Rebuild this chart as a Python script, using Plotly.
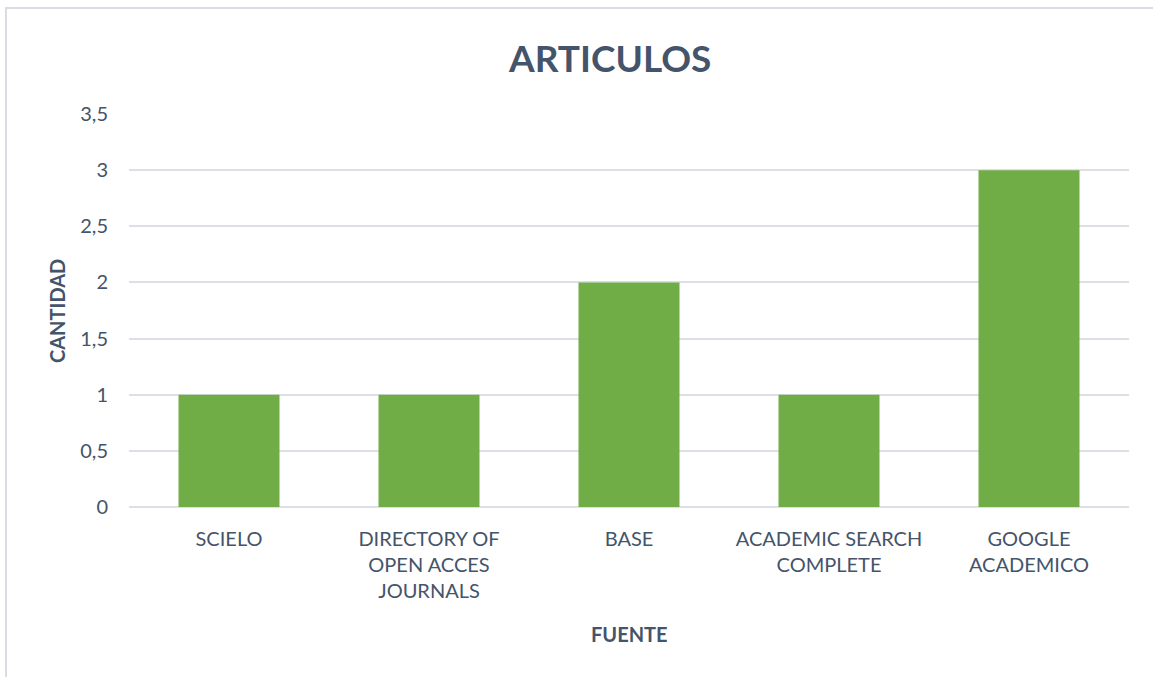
import plotly.graph_objects as go

categories = ["SCIELO", "DIRECTORY OF<br>OPEN ACCES<br>JOURNALS", "BASE",
              "ACADEMIC SEARCH<br>COMPLETE", "GOOGLE<br>ACADEMICO"]
values = [1, 1, 2, 1, 3]
tick_vals = [0, 0.5, 1, 1.5, 2, 2.5, 3, 3.5]
tick_text = ["0", "0,5", "1", "1,5", "2", "2,5", "3", "3,5"]

TXT = "#44546A"
GRID = "#DCE0E6"
FONT = "Lato, 'Open Sans', sans-serif"

fig = go.Figure(go.Bar(x=categories, y=values, marker=dict(color="#70AD47", line=dict(width=0)),
                       width=0.505))

W, H = 1153, 677
L, R, T, B = 129, 24, 114, 170
pw, ph = W - L - R, H - T - B

def px(xpix):
    return (xpix - L) / pw

def py(ypix):
    return (H - B - ypix) / ph

fig.update_layout(
    width=W, height=H,
    margin=dict(l=L, r=R, t=T, b=B),
    paper_bgcolor="white", plot_bgcolor="white",
    font=dict(family=FONT, color=TXT, size=20),
    showlegend=False,
    xaxis=dict(showgrid=False, showline=False, zeroline=False, ticks="",
               tickfont=dict(size=20, color=TXT), ticklabelstandoff=18),
    yaxis=dict(range=[0, 3.5], tickvals=tick_vals, ticktext=tick_text,
               showgrid=True, gridcolor=GRID, gridwidth=1.5, zeroline=True,
               zerolinecolor=GRID, zerolinewidth=1.5, showline=False, ticks="",
               tickfont=dict(size=20, color=TXT), ticklabelstandoff=20),
    annotations=[
        dict(text="<b>ARTICULOS</b>", xref="paper", yref="paper", x=px(609), y=py(57),
             xanchor="center", yanchor="middle", showarrow=False,
             font=dict(size=37, color=TXT, family=FONT)),
        dict(text="<b>FUENTE</b>", xref="paper", yref="paper", x=px(629), y=py(634),
             xanchor="center", yanchor="middle", showarrow=False,
             font=dict(size=20, color=TXT, family=FONT)),
        dict(text="<b>CANTIDAD</b>", xref="paper", yref="paper", x=px(57), y=py(311),
             xanchor="center", yanchor="middle", showarrow=False, textangle=-90,
             font=dict(size=20, color=TXT, family=FONT)),
    ],
    shapes=[dict(type="rect", xref="paper", yref="paper",
                 x0=px(6), x1=px(1165), y0=py(690), y1=py(8),
                 line=dict(color="#D9DDE3", width=2), fillcolor="rgba(0,0,0,0)", layer="below")],
)

fig.write_html("out.html", config={"displayModeBar": False},
               post_script="document.body.style.margin='0';document.body.style.overflow='hidden';")
